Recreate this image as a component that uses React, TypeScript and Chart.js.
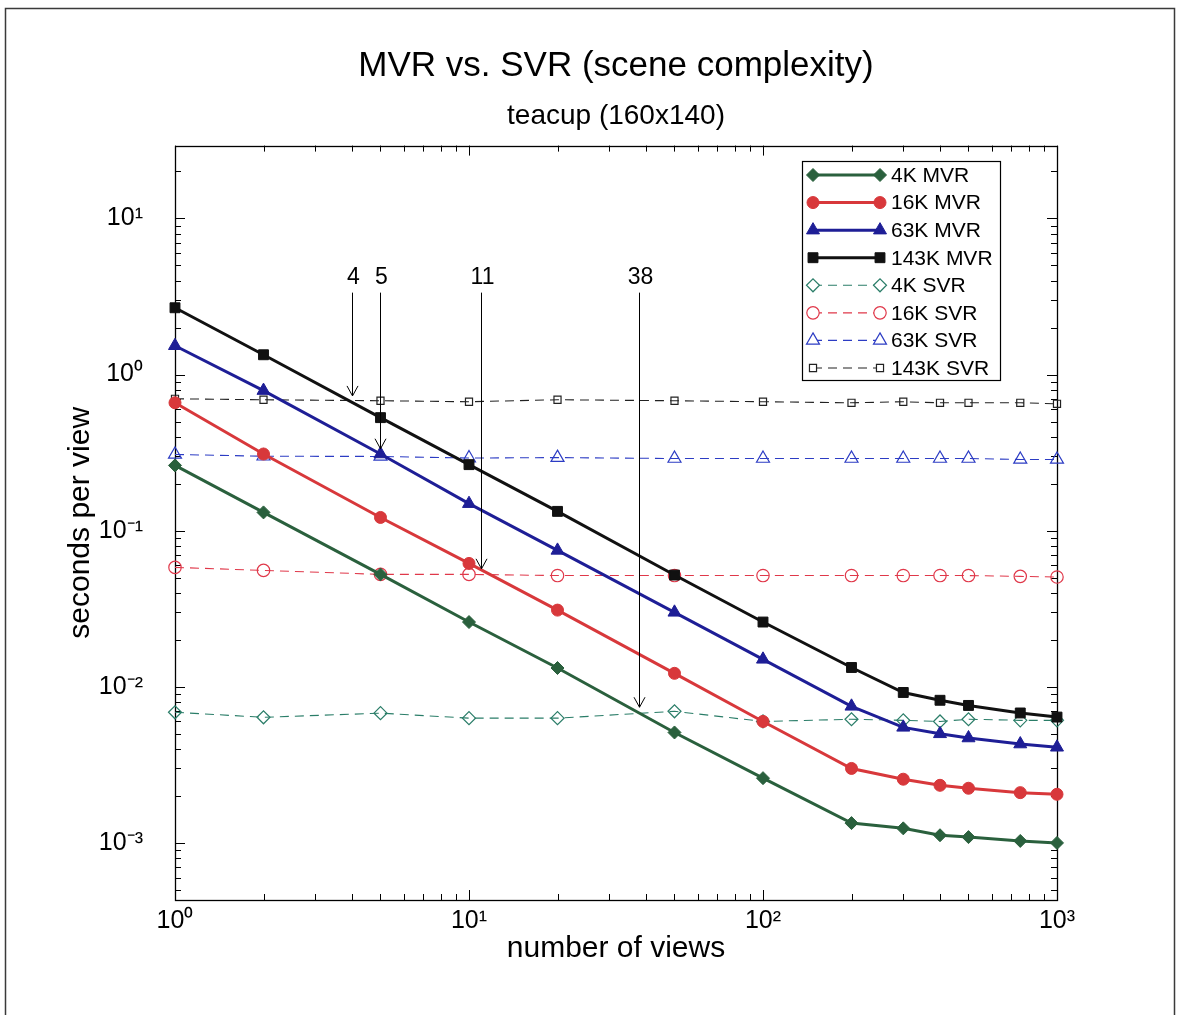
import { useEffect, useRef } from 'react';
import { Chart, registerables } from 'chart.js';

Chart.register(...registerables);

// ---------- data ----------
const views = [1, 2, 5, 10, 20, 50, 100, 200, 300, 400, 500, 750, 1000];

const mvr4k = [0.262, 0.131, 0.0525, 0.026, 0.0132, 0.0051, 0.0026, 0.00134, 0.00124, 0.00112, 0.00109, 0.00103, 0.001];
const mvr16k = [0.66, 0.31, 0.1216, 0.0617, 0.031, 0.0122, 0.006, 0.003, 0.00256, 0.00234, 0.00224, 0.0021, 0.00205];
const mvr63k = [1.53, 0.79, 0.31, 0.149, 0.0748, 0.03, 0.015, 0.0075, 0.0055, 0.005, 0.0047, 0.0043, 0.0041];
const mvr143k = [2.68, 1.34, 0.53, 0.265, 0.133, 0.052, 0.026, 0.0133, 0.0092, 0.0082, 0.0076, 0.0068, 0.0064];

const svr4k = [0.00687, 0.00638, 0.00678, 0.0063, 0.0063, 0.00697, 0.006, 0.0062, 0.0061, 0.006, 0.0062, 0.0061, 0.0061];
const svr16k = [0.0582, 0.0557, 0.0525, 0.0525, 0.0516, 0.0516, 0.0516, 0.0516, 0.0516, 0.0516, 0.0516, 0.051, 0.0505];
const svr63k = [0.308, 0.3, 0.299, 0.292, 0.294, 0.29, 0.29, 0.29, 0.29, 0.29, 0.29, 0.286, 0.286];
const svr143k = [0.7, 0.69, 0.68, 0.67, 0.69, 0.68, 0.67, 0.66, 0.67, 0.66, 0.66, 0.66, 0.65];

const seriesLabels = ['4K MVR', '16K MVR', '63K MVR', '143K MVR', '4K SVR', '16K SVR', '63K SVR', '143K SVR'];
const seriesValues = [mvr4k, mvr16k, mvr63k, mvr143k, svr4k, svr16k, svr63k, svr143k];

// crossover annotations
const arrowViews = [4, 5, 11, 38];
const arrowTips = [0.73, 0.335, 0.057, 0.0074];
const arrowLabels = ['4', '5', '11', '38'];
const arrowTop = 3.35;

const chartTitle = 'MVR vs. SVR (scene complexity)';
const chartSubtitle = 'teacup (160x140)';
const xTitle = 'number of views';
const yTitle = 'seconds per view';

const xMin = 1;
const xMax = 1000;
const yMin = 4.31e-4;
const yMax = 29.3;

// ---------- styles ----------
type Sty = { color: string; point: string; r: number; filled: boolean };
const styles: Sty[] = [
  { color: '#2a603d', point: 'rectRot', r: 6.5, filled: true },
  { color: '#d8383b', point: 'circle', r: 6, filled: true },
  { color: '#1e1e96', point: 'triangle', r: 7.5, filled: true },
  { color: '#111111', point: 'rect', r: 7, filled: true },
  { color: '#2a7d68', point: 'rectRot', r: 6.5, filled: false },
  { color: '#e0384a', point: 'circle', r: 6.2, filled: false },
  { color: '#2c3cc4', point: 'triangle', r: 7.5, filled: false },
  { color: '#222222', point: 'rect', r: 5, filled: false },
];
const DASH = [9, 6];
const FONT = "'Liberation Sans', Arial, Helvetica, sans-serif";

const SUP: Record<string, string> = { '0': '⁰', '1': '¹', '2': '²', '3': '³', '4': '⁴', '-': '⁻' };
function decadeLabel(v: number): string {
  const l = Math.log10(v);
  const e = Math.round(l);
  if (Math.abs(l - e) > 1e-6) return '';
  return '10' + String(e).split('').map((c) => SUP[c] || c).join('');
}

function markerPath(ctx: CanvasRenderingContext2D, style: string, x: number, y: number, r: number) {
  ctx.beginPath();
  if (style === 'circle') {
    ctx.arc(x, y, r, 0, Math.PI * 2);
  } else if (style === 'triangle') {
    let a = 0;
    ctx.moveTo(x + Math.sin(a) * r, y - Math.cos(a) * r);
    a += (2 * Math.PI) / 3;
    ctx.lineTo(x + Math.sin(a) * r, y - Math.cos(a) * r);
    a += (2 * Math.PI) / 3;
    ctx.lineTo(x + Math.sin(a) * r, y - Math.cos(a) * r);
    ctx.closePath();
  } else if (style === 'rect') {
    const s = Math.SQRT1_2 * r;
    ctx.rect(x - s, y - s, 2 * s, 2 * s);
  } else {
    ctx.moveTo(x - r, y);
    ctx.lineTo(x, y - r);
    ctx.lineTo(x + r, y);
    ctx.lineTo(x, y + r);
    ctx.closePath();
  }
}

const decor = {
  id: 'decor',
  beforeDraw(chart: any) {
    const ctx: CanvasRenderingContext2D = chart.ctx;
    ctx.save();
    ctx.fillStyle = '#ffffff';
    ctx.fillRect(0, 0, chart.width, chart.height);
    ctx.strokeStyle = '#3a3a3a';
    ctx.lineWidth = 1.5;
    ctx.beginPath();
    ctx.moveTo(5.5, chart.height);
    ctx.lineTo(5.5, 8.5);
    ctx.lineTo(1174.5, 8.5);
    ctx.lineTo(1174.5, chart.height);
    ctx.stroke();
    ctx.restore();
  },
  beforeDatasetsDraw(chart: any) {
    const ctx: CanvasRenderingContext2D = chart.ctx;
    const a = chart.chartArea;
    const xs = chart.scales.x;
    const ys = chart.scales.y;
    ctx.save();
    ctx.strokeStyle = '#000';
    ctx.lineWidth = 1;
    ctx.beginPath();
    for (let d = 0; d <= 3; d++) {
      for (let m = 1; m <= 9; m++) {
        const v = m * Math.pow(10, d);
        if (v < xMin - 1e-9 || v > xMax + 1e-9) continue;
        const px = Math.round(xs.getPixelForValue(v)) + 0.5;
        const len = m === 1 ? 10 : 6;
        ctx.moveTo(px, a.bottom);
        ctx.lineTo(px, a.bottom - len);
        ctx.moveTo(px, a.top);
        ctx.lineTo(px, a.top + len);
      }
    }
    for (let d = -4; d <= 1; d++) {
      for (let m = 1; m <= 9; m++) {
        const v = m * Math.pow(10, d);
        if (v < yMin || v > yMax) continue;
        const py = Math.round(ys.getPixelForValue(v)) + 0.5;
        const len = m === 1 ? 10 : 6;
        ctx.moveTo(a.left, py);
        ctx.lineTo(a.left + len, py);
        ctx.moveTo(a.right, py);
        ctx.lineTo(a.right - len, py);
      }
    }
    ctx.stroke();
    ctx.lineWidth = 1.3;
    ctx.strokeRect(Math.round(a.left) + 0.5, Math.round(a.top) + 0.5, Math.round(a.right - a.left), Math.round(a.bottom - a.top));
    ctx.restore();
  },
  afterDatasetsDraw(chart: any) {
    const ctx: CanvasRenderingContext2D = chart.ctx;
    const xs = chart.scales.x;
    const ys = chart.scales.y;
    ctx.save();
    ctx.strokeStyle = '#000';
    ctx.fillStyle = '#000';
    ctx.lineWidth = 1;
    ctx.font = `23px ${FONT}`;
    ctx.textAlign = 'center';
    ctx.textBaseline = 'middle';
    arrowViews.forEach((v, i) => {
      const px = Math.round(xs.getPixelForValue(v)) + 0.5;
      const top = ys.getPixelForValue(arrowTop);
      const tip = ys.getPixelForValue(arrowTips[i]);
      ctx.beginPath();
      ctx.moveTo(px, top);
      ctx.lineTo(px, tip);
      ctx.moveTo(px - 5.5, tip - 10);
      ctx.lineTo(px, tip);
      ctx.lineTo(px + 5.5, tip - 10);
      ctx.stroke();
      ctx.fillText(arrowLabels[i], px + 1, top - 15);
    });
    ctx.restore();
  },
  afterDraw(chart: any) {
    const ctx: CanvasRenderingContext2D = chart.ctx;
    const bx = 802, by = 161, bw = 198, bh = 219;
    ctx.save();
    ctx.fillStyle = '#fff';
    ctx.fillRect(bx, by, bw, bh);
    ctx.strokeStyle = '#000';
    ctx.lineWidth = 1.2;
    ctx.strokeRect(bx + 0.5, by + 0.5, bw, bh);
    ctx.font = `21px ${FONT}`;
    ctx.textAlign = 'left';
    ctx.textBaseline = 'middle';
    seriesLabels.forEach((lab, i) => {
      const s = styles[i];
      const y = 175 + i * 27.57;
      const x0 = 813, x1 = 880;
      ctx.strokeStyle = s.color;
      ctx.lineWidth = s.filled ? 3 : 1.1;
      ctx.setLineDash(s.filled ? [] : DASH);
      ctx.beginPath();
      ctx.moveTo(x0, y);
      ctx.lineTo(x1, y);
      ctx.stroke();
      ctx.setLineDash([]);
      [x0, x1].forEach((mx) => {
        markerPath(ctx, s.point, mx, y, s.r);
        if (s.filled) {
          ctx.fillStyle = s.color;
          ctx.fill();
          ctx.lineWidth = 1;
          ctx.stroke();
        } else {
          ctx.fillStyle = '#fff';
          ctx.fill();
          ctx.lineWidth = 1.2;
          ctx.stroke();
        }
      });
      ctx.fillStyle = '#000';
      ctx.fillText(lab, 891, y + 1);
    });
    ctx.restore();
  },
};

export default function App() {
  const ref = useRef<HTMLCanvasElement>(null);
  useEffect(() => {
    Chart.defaults.font.family = FONT;
    Chart.defaults.color = '#000';
    const datasets = seriesValues.map((vals, i) => {
      const s = styles[i];
      return {
        label: seriesLabels[i],
        data: views.map((v, j) => ({ x: v, y: vals[j] })),
        borderColor: s.color,
        backgroundColor: s.color,
        borderWidth: s.filled ? 3 : 1.1,
        borderDash: s.filled ? [] : DASH,
        pointStyle: s.point,
        pointRadius: s.r,
        pointHoverRadius: s.r,
        pointBackgroundColor: s.filled ? s.color : 'rgba(255,255,255,0)',
        pointBorderColor: s.color,
        pointBorderWidth: s.filled ? 1 : 1.2,
        tension: 0,
        fill: false,
        clip: false,
      };
    });
    const chart = new Chart(ref.current!, {
      type: 'line',
      data: { datasets } as any,
      plugins: [decor],
      options: {
        responsive: false,
        animation: false,
        events: [],
        layout: { padding: { left: 0, right: 120, top: 0, bottom: 0 } },
        plugins: {
          legend: { display: false },
          tooltip: { enabled: false },
          title: {
            display: true,
            text: chartTitle,
            fullSize: false,
            color: '#000',
            font: { size: 35, weight: 'normal' },
            padding: { top: 45, bottom: 0 },
          },
          subtitle: {
            display: true,
            text: chartSubtitle,
            fullSize: false,
            color: '#000',
            font: { size: 28, weight: 'normal' },
            padding: { top: 12, bottom: 13 },
          },
        },
        scales: {
          x: {
            type: 'logarithmic',
            min: xMin,
            max: xMax,
            grid: { display: false },
            border: { display: false },
            ticks: {
              autoSkip: false,
              maxRotation: 0,
              padding: -2,
              font: { size: 25 },
              color: '#000',
              callback: (v: any) => decadeLabel(Number(v)),
            },
            title: {
              display: true,
              text: xTitle,
              color: '#000',
              font: { size: 30 },
              padding: { top: 0, bottom: 48 },
            },
            afterFit: (s: any) => {
              s.height = 115;
            },
          },
          y: {
            type: 'logarithmic',
            min: yMin,
            max: yMax,
            grid: { display: false },
            border: { display: false },
            ticks: {
              autoSkip: false,
              padding: 24,
              font: { size: 25 },
              color: '#000',
              callback: (v: any) => decadeLabel(Number(v)),
            },
            title: {
              display: true,
              text: yTitle,
              color: '#000',
              font: { size: 30 },
              padding: { top: 63, bottom: 0 },
            },
            afterFit: (s: any) => {
              s.width = 175;
            },
          },
        },
      } as any,
    });
    return () => chart.destroy();
  }, []);
  return (
    <div style={{ position: 'absolute', left: 0, top: 0, width: 1177, height: 1015, background: '#fff' }}>
      <canvas ref={ref} width={1177} height={1015} style={{ display: 'block' }} />
    </div>
  );
}
